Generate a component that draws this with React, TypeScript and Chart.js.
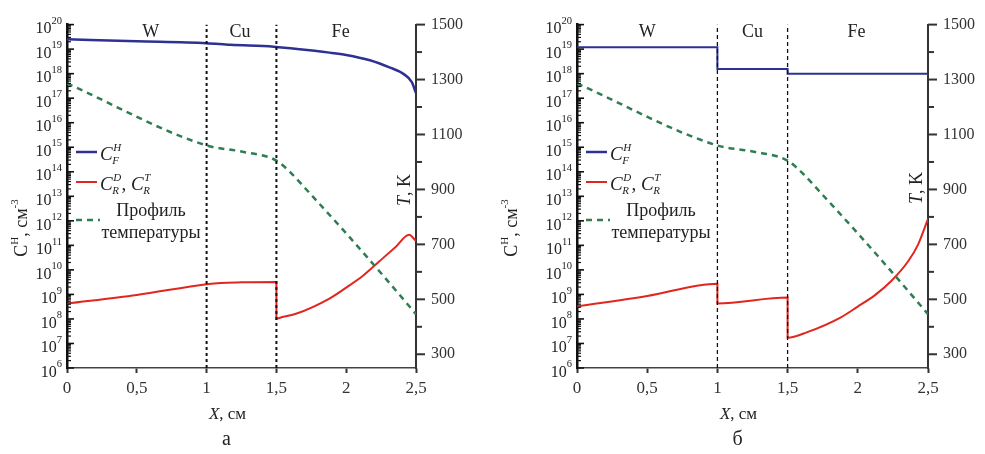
import React, { useEffect, useRef } from "react";
import { Chart, registerables } from "chart.js";
Chart.register(...registerables);

const FONT = "'Liberation Serif', 'Times New Roman', serif";

// ---- data: chart "а" ----
const blueAX = [0, 0.5, 1, 1.17, 1.48, 1.88, 2.0, 2.17, 2.31, 2.41, 2.47, 2.5];
const blueAY = [2.5e19, 2.1e19, 1.75e19, 1.5e19, 1.25e19, 7.2e18, 5.8e18, 3.5e18, 1.8e18, 9.8e17, 4.5e17, 1.6e17];
const redAX = [0, 0.5, 1, 1.1, 1.25, 1.5, 1.5, 1.52, 1.645, 1.88, 2.0, 2.12, 2.24, 2.36, 2.45, 2.5];
const redAY = [4.2e8, 9.5e8, 2.6e9, 2.95e9, 3.1e9, 3.2e9, 1.0e8, 1.1e8, 1.66e8, 6.8e8, 1.9e9, 5.75e9, 2.3e10, 9.3e10, 2.7e11, 1.5e11];

// ---- data: chart "б" ----
const blueBX = [0, 1, 1, 1.5, 1.5, 2.5];
const blueBY = [1.2e19, 1.2e19, 1.55e18, 1.55e18, 1.0e18, 1.0e18];
const redBX = [0, 0.5, 1, 1, 1.5, 1.5, 1.64, 1.88, 2.0, 2.12, 2.24, 2.36, 2.43, 2.5];
const redBY = [3.2e8, 8.7e8, 2.75e9, 4.3e8, 7.4e8, 1.7e7, 2.9e7, 1.17e8, 3.2e8, 9.1e8, 3.6e9, 2.3e10, 1.1e11, 1.2e12];

// ---- temperature profile (both) ----
const tempX = [0, 1, 1.25, 1.5, 1.6, 1.75, 2, 2.25, 2.5];
const tempY = [1286, 1060, 1038, 1005, 962, 880, 740, 595, 446];

// ---- axes ----
const xTicks = [0, 0.5, 1, 1.5, 2, 2.5];
const tempTicks = [300, 500, 700, 900, 1100, 1300, 1500];
const tempMinor = [400, 600, 800, 1000, 1200, 1400];
const logExps = [6, 7, 8, 9, 10, 11, 12, 13, 14, 15, 16, 17, 18, 19, 20];
const layerBounds = [1, 1.5];
const layerNames = ["W", "Cu", "Fe"];
const layerPosA = [0.6, 1.24, 1.96];
const layerPosB = [0.5, 1.25, 1.99];

const BLUE = "#2e3192";
const RED = "#e0271f";
const GREEN = "#2f7d52";

const pts = (xs: number[], ys: number[]) => xs.map((x, i) => ({ x, y: ys[i] }));

interface Cfg {
  id: string;
  width: number;
  left: number;
  right: number;
  blueX: number[]; blueY: number[];
  redX: number[]; redY: number[];
  layerPos: number[];
  caption: string;
  divDash: number[];
  divWidth: number;
  blueWidth: number;
  yTitleY: number;
  tTitleY: number;
}

const H = 454;
const TOP = 20;
const BOTTOM = 368;

function makePlugin(cfg: Cfg) {
  return {
    id: "decor_" + cfg.id,
    afterDraw(chart: any) {
      const ctx: CanvasRenderingContext2D = chart.ctx;
      const { left, right, top } = chart.chartArea;
      const ys = chart.scales.y;
      const ts = chart.scales.y2;
      const xs = chart.scales.x;
      const line = (x1: number, y1: number, x2: number, y2: number) => {
        ctx.beginPath(); ctx.moveTo(x1, y1); ctx.lineTo(x2, y2); ctx.stroke();
      };
      ctx.save();
      // left log-axis ticks and labels
      ctx.strokeStyle = "#111";
      for (const e of logExps) {
        const v = Math.pow(10, e);
        const py = ys.getPixelForValue(v);
        ctx.lineWidth = 1.6;
        line(left, py, left + 7, py);
        if (e < 20) {
          for (let m = 2; m <= 9; m++) {
            const pm = ys.getPixelForValue(m * v);
            ctx.lineWidth = 1.2;
            line(left, pm, left + 4, pm);
          }
        }
        ctx.fillStyle = "#222";
        ctx.textBaseline = "middle";
        ctx.textAlign = "left";
        ctx.font = `10.5px ${FONT}`;
        const ws = ctx.measureText(String(e)).width;
        ctx.font = `16px ${FONT}`;
        const wb = ctx.measureText("10").width;
        const xEnd = left - 5;
        ctx.fillText("10", xEnd - ws - wb, py + 4.5);
        ctx.font = `10.5px ${FONT}`;
        ctx.fillText(String(e), xEnd - ws, py - 3.5);
      }
      // right axis ticks
      ctx.strokeStyle = "#333";
      ctx.lineWidth = 2;
      for (const t of tempTicks) {
        const py = ts.getPixelForValue(t);
        line(right, py, right + 9, py);
      }
      for (const t of tempMinor) {
        const py = ts.getPixelForValue(t);
        line(right, py, right + 6, py);
      }
      // layer names
      ctx.fillStyle = "#222";
      ctx.font = `18px ${FONT}`;
      ctx.textAlign = "center";
      ctx.textBaseline = "middle";
      layerNames.forEach((n, i) => {
        ctx.fillText(n, xs.getPixelForValue(cfg.layerPos[i]), top + 8);
      });
      // legend
      const L = left;
      ctx.setLineDash([]);
      ctx.lineWidth = 2.5;
      ctx.strokeStyle = BLUE;
      line(L + 9, 152, L + 30, 152);
      ctx.strokeStyle = RED;
      ctx.lineWidth = 2;
      line(L + 9, 182, L + 30, 182);
      ctx.strokeStyle = GREEN;
      ctx.lineWidth = 2.5;
      ctx.setLineDash([6, 5]);
      line(L + 9, 220, L + 33, 220);
      ctx.setLineDash([]);
      ctx.fillStyle = "#222";
      ctx.textAlign = "left";
      ctx.textBaseline = "alphabetic";
      const drawC = (x: number, base: number, sup: string, sub: string) => {
        ctx.font = `italic 19px ${FONT}`;
        ctx.fillText("C", x, base);
        const w = ctx.measureText("C").width;
        ctx.font = `italic 11px ${FONT}`;
        ctx.fillText(sup, x + w + 0.5, base - 9);
        ctx.fillText(sub, x + w - 0.5, base + 4);
        return x + w + Math.max(ctx.measureText(sup).width, ctx.measureText(sub).width) + 1;
      };
      drawC(L + 33, 159.5, "H", "F");
      let nx = drawC(L + 33, 189.5, "D", "R");
      ctx.font = `19px ${FONT}`;
      ctx.fillText(",", nx, 189.5);
      nx += ctx.measureText(", ").width;
      drawC(nx, 189.5, "T", "R");
      ctx.font = `18px ${FONT}`;
      ctx.textAlign = "center";
      ctx.textBaseline = "middle";
      ctx.fillText("Профиль", L + 84, 211);
      ctx.fillText("температуры", L + 84, 233);
      // left axis title (rotated)
      ctx.save();
      ctx.translate(22, cfg.yTitleY);
      ctx.rotate(-Math.PI / 2);
      ctx.textBaseline = "middle";
      ctx.textAlign = "left";
      const parts: [string, string, number][] = [
        ["C", `18px ${FONT}`, 0], ["H", `11px ${FONT}`, -7], [", см", `18px ${FONT}`, 0], ["-3", `11px ${FONT}`, -7],
      ];
      let total = 0;
      for (const p of parts) { ctx.font = p[1]; total += ctx.measureText(p[0]).width; }
      let px = -total / 2;
      for (const p of parts) { ctx.font = p[1]; ctx.fillText(p[0], px, p[2]); px += ctx.measureText(p[0]).width; }
      ctx.restore();
      // right axis title
      ctx.save();
      ctx.translate(right - 11, cfg.tTitleY);
      ctx.rotate(-Math.PI / 2);
      ctx.textBaseline = "middle";
      ctx.textAlign = "left";
      ctx.font = `italic 18px ${FONT}`;
      const wT = ctx.measureText("T").width;
      ctx.font = `18px ${FONT}`;
      const wK = ctx.measureText(", K").width;
      ctx.font = `italic 18px ${FONT}`;
      ctx.fillText("T", -(wT + wK) / 2, 0);
      ctx.font = `18px ${FONT}`;
      ctx.fillText(", K", -(wT + wK) / 2 + wT, 0);
      ctx.restore();
      // x axis title
      const cx = (left + right) / 2 - 14;
      ctx.textBaseline = "alphabetic";
      ctx.textAlign = "left";
      ctx.font = `italic 17px ${FONT}`;
      const wX = ctx.measureText("X").width;
      ctx.font = `17px ${FONT}`;
      const wR = ctx.measureText(", см").width;
      ctx.font = `italic 17px ${FONT}`;
      ctx.fillText("X", cx - (wX + wR) / 2, 419);
      ctx.font = `17px ${FONT}`;
      ctx.fillText(", см", cx - (wX + wR) / 2 + wX, 419);
      // caption
      ctx.font = `20px ${FONT}`;
      ctx.textAlign = "center";
      ctx.textBaseline = "middle";
      ctx.fillText(cfg.caption, cx - 1, 440);
      ctx.restore();
    },
  };
}

function buildChart(canvas: HTMLCanvasElement, cfg: Cfg) {
  const dividers = layerBounds.map((b) => ({
    data: [{ x: b, y: 1e6 }, { x: b, y: 1e20 }],
    yAxisID: "y",
    borderColor: "#111",
    borderWidth: cfg.divWidth,
    borderDash: cfg.divDash,
    pointRadius: 0,
    tension: 0,
  }));
  return new Chart(canvas, {
    type: "line",
    data: {
      datasets: [
        ...dividers,
        {
          data: pts(tempX, tempY),
          yAxisID: "y2",
          borderColor: GREEN,
          borderWidth: 2.5,
          borderDash: [6, 5],
          pointRadius: 0,
          cubicInterpolationMode: "monotone",
        },
        {
          data: pts(cfg.redX, cfg.redY),
          yAxisID: "y",
          borderColor: RED,
          borderWidth: 2,
          pointRadius: 0,
          cubicInterpolationMode: "monotone",
        },
        {
          data: pts(cfg.blueX, cfg.blueY),
          yAxisID: "y",
          borderColor: BLUE,
          borderWidth: cfg.blueWidth,
          pointRadius: 0,
          cubicInterpolationMode: "monotone",
        },
      ] as any,
    },
    options: {
      animation: false,
      responsive: false,
      maintainAspectRatio: false,
      layout: { padding: { top: TOP, left: 0, right: 0, bottom: 0 } },
      plugins: { legend: { display: false }, tooltip: { enabled: false } },
      scales: {
        x: {
          type: "linear",
          min: 0,
          max: 2.5,
          afterBuildTicks: (s: any) => { s.ticks = xTicks.map((v) => ({ value: v })); },
          afterFit: (s: any) => { s.height = H - BOTTOM; },
          grid: { display: true, drawOnChartArea: false, drawTicks: true, tickLength: 5, tickWidth: 2, tickColor: "#333", color: "#333" },
          border: { display: true, color: "#444", width: 1.5 },
          ticks: {
            font: { family: FONT, size: 17 },
            color: "#333",
            padding: 5,
            maxRotation: 0,
            autoSkip: false,
            callback: (v: any) => String(v).replace(".", ","),
          },
        },
        y: {
          type: "logarithmic",
          position: "left",
          min: 1e6,
          max: 1e20,
          afterFit: (s: any) => { s.width = cfg.left; },
          grid: { display: false, drawTicks: false },
          border: { display: true, color: "#111", width: 2.5 },
          ticks: { display: false },
        },
        y2: {
          type: "linear",
          position: "right",
          min: 250,
          max: 1500,
          afterBuildTicks: (s: any) => { s.ticks = tempTicks.map((v) => ({ value: v })); },
          afterFit: (s: any) => { s.width = cfg.width - cfg.right; },
          grid: { display: false, drawTicks: false },
          border: { display: true, color: "#333", width: 2 },
          ticks: {
            font: { family: FONT, size: 16 },
            color: "#333",
            padding: 15,
            autoSkip: false,
            callback: (v: any) => String(v),
          },
        },
      },
    } as any,
    plugins: [makePlugin(cfg)],
  });
}

const cfgA: Cfg = {
  id: "a", width: 490, left: 67, right: 416,
  blueX: blueAX, blueY: blueAY, redX: redAX, redY: redAY,
  layerPos: layerPosA, caption: "а", divDash: [3, 3], divWidth: 2, blueWidth: 2.5,
  yTitleY: 228, tTitleY: 190,
};
const cfgB: Cfg = {
  id: "b", width: 495, left: 87, right: 438,
  blueX: blueBX, blueY: blueBY, redX: redBX, redY: redBY,
  layerPos: layerPosB, caption: "б", divDash: [4, 3], divWidth: 1.3, blueWidth: 2,
  yTitleY: 228, tTitleY: 188,
};

export default function App() {
  const refA = useRef<HTMLCanvasElement>(null);
  const refB = useRef<HTMLCanvasElement>(null);
  useEffect(() => {
    const a = buildChart(refA.current!, cfgA);
    const b = buildChart(refB.current!, cfgB);
    return () => { a.destroy(); b.destroy(); };
  }, []);
  return (
    <div style={{ position: "absolute", left: 0, top: 0, width: 985, height: H, background: "#fff" }}>
      <canvas ref={refA} width={490} height={H} style={{ position: "absolute", left: 0, top: 0, width: 490, height: H }} />
      <canvas ref={refB} width={495} height={H} style={{ position: "absolute", left: 490, top: 0, width: 495, height: H }} />
    </div>
  );
}
